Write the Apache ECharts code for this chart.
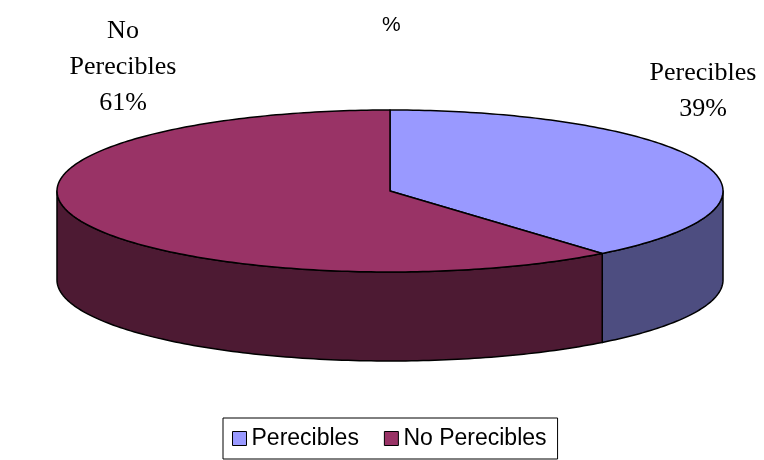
<!DOCTYPE html>
<html><head><meta charset="utf-8">
<script src="https://cdn.jsdelivr.net/npm/echarts@6/dist/echarts.min.js"></script>
<style>html,body{margin:0;padding:0;background:#fff}#c{width:764px;height:460px}</style>
</head><body><div id="c"></div>
<script>
const categories = ['Perecibles', 'No Perecibles'];
const values = [39, 61];
const titleText = '%';
const topColors = ['#9999FF', '#993366'];
const sideColors = ['#4D4D80', '#4D1A33'];

const CX = 390, CY = 191, RX = 333, RY = 81, DEPTH = 89;
const labelPos = [[703, 55], [123, 13]];
const total = values.reduce((a, b) => a + b, 0);

function pt(deg, dy) {
  const r = deg * Math.PI / 180;
  return [CX + RX * Math.sin(r), CY - RY * Math.cos(r) + (dy || 0)];
}
function arc(a0, a1, dy) {
  const pts = [];
  const n = Math.max(2, Math.ceil(Math.abs(a1 - a0)));
  for (let k = 0; k <= n; k++) pts.push(pt(a0 + (a1 - a0) * k / n, dy));
  return pts;
}
function makeRender(i) {
  return function (params, api) {
    const v = api.value(0);
    let start = 0;
    for (let j = 0; j < i; j++) start += values[j];
    const a0 = start / total * 360, a1 = (start + v) / total * 360;
    const children = [];
    const s0 = Math.max(a0, 90), s1 = Math.min(a1, 270);
    if (s1 > s0) {
      children.push({
        type: 'polygon', z2: 1,
        shape: { points: arc(s0, s1, 0).concat(arc(s1, s0, DEPTH)) },
        style: { fill: sideColors[i], stroke: '#000', lineWidth: 1.5, lineJoin: 'round' }
      });
    }
    children.push({
      type: 'polygon', z2: 10,
      shape: { points: [[CX, CY]].concat(arc(a0, a1, 0)) },
      style: { fill: api.visual('color'), stroke: '#000', lineWidth: 1.5, lineJoin: 'round' }
    });
    children.push({
      type: 'text', z2: 20, x: labelPos[i][0], y: labelPos[i][1],
      style: {
        text: categories[i].replace(' ', '\n') + '\n' + Math.round(v / total * 100) + '%',
        fill: '#000', font: '26px "Liberation Serif", "Times New Roman", serif',
        lineHeight: 36, align: 'center', verticalAlign: 'top'
      }
    });
    return { type: 'group', children };
  };
}

const chart = echarts.init(document.getElementById('c'), null, { renderer: 'canvas' });
chart.setOption({
  animation: false,
  backgroundColor: '#fff',
  title: {
    text: titleText, left: 382, top: 15, padding: 0,
    textStyle: { fontSize: 21, fontWeight: 'normal', fontFamily: '"Liberation Sans", Arial, sans-serif', color: '#000' }
  },
  legend: {
    data: categories, left: 223, top: 418, orient: 'horizontal',
    padding: [9, 11, 9, 9], itemGap: 25, itemWidth: 14, itemHeight: 14,
    icon: 'rect', selectedMode: false,
    borderColor: '#000', borderWidth: 1, backgroundColor: '#fff',
    itemStyle: { borderColor: '#000', borderWidth: 1 },
    textStyle: { fontSize: 23, fontFamily: '"Liberation Sans", Arial, sans-serif', color: '#000' }
  },
  series: categories.map((name, i) => ({
    type: 'custom', name: name, coordinateSystem: 'none',
    itemStyle: { color: topColors[i] },
    data: [values[i]],
    renderItem: makeRender(i)
  }))
});
</script>
</body></html>
